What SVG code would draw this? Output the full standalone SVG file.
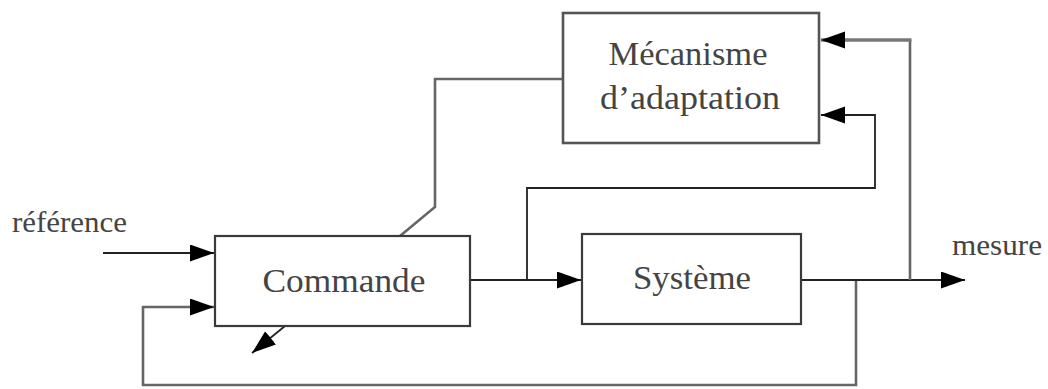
<svg xmlns="http://www.w3.org/2000/svg" width="1048" height="389" viewBox="0 0 1048 389">
  <style>
    .box { fill: #ffffff; stroke: #3a3a3a; stroke-width: 2.2; }
    .box-light { fill: #ffffff; stroke: #555555; stroke-width: 2.6; }
    .lbl { font-family: "Liberation Serif", "DejaVu Serif", serif; fill: #444444; }
    .big { font-size: 34px; }
    .small { font-size: 30px; }
    .wire { fill: none; stroke: #222222; stroke-width: 1.8; }
    .wire-gray { fill: none; stroke: #666666; stroke-width: 2.6; }
    .wire-thick { fill: none; stroke: #777777; stroke-width: 3.6; }
  </style>
  <defs>
    <marker id="head" markerUnits="userSpaceOnUse" markerWidth="24" markerHeight="18" refX="24" refY="8.5" orient="auto">
      <path d="M0,0 L24,8.5 L0,17 Z" fill="#000000"/>
    </marker>
  </defs>
  <rect width="1048" height="389" fill="#ffffff"/>

  <!-- connectors -->
  <g id="connectors">
    <path class="wire" d="M103,253 H214" marker-end="url(#head)"/>
    <path class="wire-gray" d="M856,280 V385 H143 V307 H214" marker-end="url(#head)"/>
    <path class="wire" d="M470,280 H581" marker-end="url(#head)"/>
    <path class="wire" d="M527,280 V188 H875 V115 H821" marker-end="url(#head)"/>
    <path class="wire" d="M801,280 H965" marker-end="url(#head)"/>
    <path class="wire-gray" d="M910,280 V40"/>
    <path class="wire-thick" d="M911.5,40 H821" marker-end="url(#head)"/>
    <path class="wire-gray" d="M563,79 H435 V207 L400,236"/>
    <path class="wire" d="M285,326 L252,353" marker-end="url(#head)"/>
  </g>

  <g id="mecanisme">
    <rect class="box-light" x="563" y="13" width="256" height="130"/>
    <text class="lbl big" x="688" y="65" text-anchor="middle" textLength="159" lengthAdjust="spacingAndGlyphs">Mécanisme</text>
    <text class="lbl big" x="690" y="109" text-anchor="middle" textLength="180" lengthAdjust="spacingAndGlyphs">d’adaptation</text>
  </g>

  <g id="commande">
    <rect class="box" x="215" y="236" width="255" height="90"/>
    <text class="lbl big" x="344" y="292" text-anchor="middle" textLength="163" lengthAdjust="spacingAndGlyphs">Commande</text>
  </g>

  <g id="systeme">
    <rect class="box" x="582" y="234" width="219" height="90"/>
    <text class="lbl big" x="692" y="289" text-anchor="middle" textLength="118" lengthAdjust="spacingAndGlyphs">Système</text>
  </g>

  <g id="reference">
    <text class="lbl small" x="12" y="232" textLength="115" lengthAdjust="spacingAndGlyphs">référence</text>
  </g>

  <g id="mesure">
    <text class="lbl small" x="952" y="255" textLength="90" lengthAdjust="spacingAndGlyphs">mesure</text>
  </g>
</svg>
